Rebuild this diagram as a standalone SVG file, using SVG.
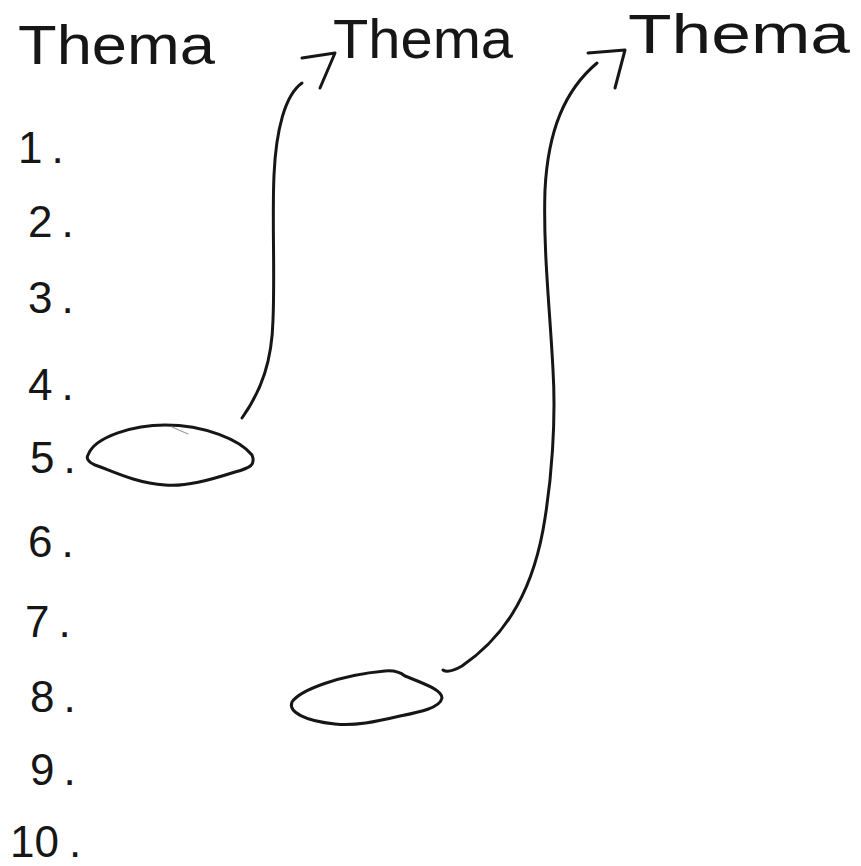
<svg xmlns="http://www.w3.org/2000/svg" width="861" height="866" viewBox="0 0 861 866">
<style>
.hdr{font-family:"Liberation Sans","DejaVu Sans",sans-serif;font-size:56px;fill:#161616}
.num{font-family:"Liberation Sans","DejaVu Sans",sans-serif;font-size:44px;fill:#161616;letter-spacing:9px}
.ink{fill:none;stroke:#161616;stroke-width:3;stroke-linecap:round;stroke-linejoin:round}
.faint{fill:none;stroke:#999;stroke-width:1.2;stroke-linecap:round}
</style>
<rect width="861" height="866" fill="#ffffff"/>
<g id="thema-1"><text class="hdr" x="18" y="64" textLength="197" lengthAdjust="spacingAndGlyphs">Thema</text></g>
<g id="thema-2"><text class="hdr" x="333" y="58" textLength="180" lengthAdjust="spacingAndGlyphs">Thema</text></g>
<g id="thema-3"><text class="hdr" x="628" y="53" textLength="222" lengthAdjust="spacingAndGlyphs">Thema</text></g>
<g id="item-1"><text class="num" x="18" y="163">1.</text></g>
<g id="item-2"><text class="num" x="28" y="237">2.</text></g>
<g id="item-3"><text class="num" x="28" y="313">3.</text></g>
<g id="item-4"><text class="num" x="28" y="400">4.</text></g>
<g id="item-5"><text class="num" x="30" y="473">5.</text></g>
<g id="item-6"><text class="num" x="28" y="557">6.</text></g>
<g id="item-7"><text class="num" x="25" y="637">7.</text></g>
<g id="item-8"><text class="num" x="30" y="712">8.</text></g>
<g id="item-9"><text class="num" x="30" y="785">9.</text></g>
<g id="item-10"><text class="num" x="10" y="857" style="letter-spacing:0px">10<tspan dx="10">.</tspan></text></g>
<g id="mark-5">
<path class="ink" d="M88,455 C95,436 135,425 165,425 C205,425 240,440 252,455 C256,465 250,468 235,472 C210,480 185,487 165,485 C135,483 110,470 95,465 C88,462 86,458 88,455 Z"/>
<path class="faint" d="M172,427 L188,434"/>
</g>
<g id="mark-8">
<path class="ink" d="M292,702 C300,690 340,675 385,671 C395,670 400,672 405,676 C425,684 442,690 442,698 C440,708 420,712 400,716 C375,722 355,726 335,724 C305,721 288,712 292,702 Z"/>
</g>
<g id="connectors">
<path class="ink" d="M242,418 C262,390 272,360 273,320 C275,270 272,220 274,175 C276,130 285,95 302,83"/>
<path class="ink" d="M302,58 L335,53 L320,88"/>
<path class="ink" d="M443,670 C447,673 455,670 462,666 C500,640 530,600 543,530 C552,480 556,420 553,370 C550,310 543,250 545,190 C548,130 565,90 597,63"/>
<path class="ink" d="M588,53 L625,50 L615,88"/>
</g>
</svg>
